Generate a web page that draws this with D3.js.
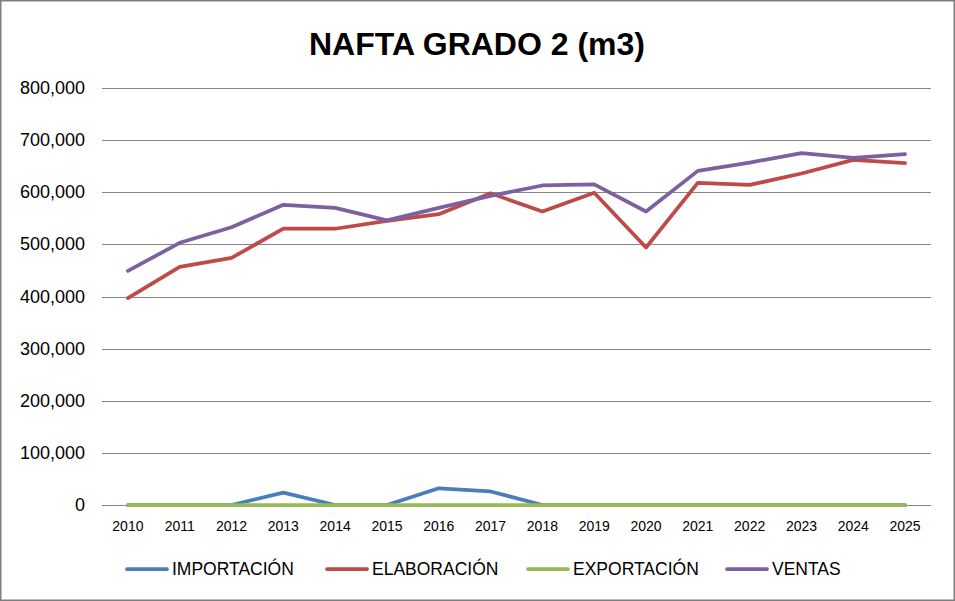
<!DOCTYPE html>
<html>
<head>
<meta charset="utf-8">
<script src="https://cdn.jsdelivr.net/npm/d3@7"></script>
<style>
  body { margin: 0; background: #fff; }
  svg text { font-family: "Liberation Sans", Arial, sans-serif; fill: #000; }
</style>
</head>
<body>
<div id="chart"></div>
<script>
// data
const years = [2010, 2011, 2012, 2013, 2014, 2015, 2016, 2017, 2018, 2019, 2020, 2021, 2022, 2023, 2024, 2025];
const importacion = [0, 0, 0, 23600, 0, 0, 32000, 26000, 0, 0, 0, 0, 0, 0, 0, 0];
const elaboracion = [397000, 457000, 474000, 530000, 530000, 545000, 558000, 598000, 563000, 599000, 494000, 618000, 614000, 636000, 662000, 656000];
const exportacion = [0, 0, 0, 0, 0, 0, 0, 0, 0, 0, 0, 0, 0, 0, 0, 0];
const ventas = [449000, 503000, 533000, 576000, 570000, 546000, 570000, 593000, 613000, 615000, 563000, 641000, 657000, 675000, 666000, 673000];
const yTicks = [0, 100000, 200000, 300000, 400000, 500000, 600000, 700000, 800000];

const series = [
  {name: "IMPORTACIÓN", values: importacion, color: "#4a7ebb"},
  {name: "ELABORACIÓN", values: elaboracion, color: "#be4b48"},
  {name: "EXPORTACIÓN", values: exportacion, color: "#98b954"},
  {name: "VENTAS", values: ventas, color: "#7d60a0"}
];

const width = 955, height = 601;
const margin = {top: 88, right: 24, bottom: 96, left: 102};

const svg = d3.select("#chart").append("svg")
    .attr("width", width)
    .attr("height", height);

// chart border
svg.append("rect")
    .attr("x", 0.75).attr("y", 0.75)
    .attr("width", width - 1.5).attr("height", height - 1.5)
    .attr("fill", "#fff")
    .attr("stroke", "#7f7f7f")
    .attr("stroke-width", 1.5);

svg.append("text")
    .attr("x", 477)
    .attr("y", 55)
    .attr("text-anchor", "middle")
    .style("font-size", "32px")
    .style("font-weight", "bold")
    .text("NAFTA GRADO 2 (m3)");

const x = d3.scaleBand()
    .domain(years)
    .range([margin.left, width - margin.right]);

const y = d3.scaleLinear()
    .domain([0, 800000])
    .range([height - margin.bottom, margin.top]);

// gridlines
svg.append("g")
    .selectAll("line")
    .data(yTicks)
    .join("line")
    .attr("x1", margin.left)
    .attr("x2", width - margin.right)
    .attr("y1", d => Math.round(y(d)) + 0.5)
    .attr("y2", d => Math.round(y(d)) + 0.5)
    .attr("stroke", "#868686")
    .attr("stroke-width", 1);

// y labels
svg.append("g")
    .selectAll("text")
    .data(yTicks)
    .join("text")
    .attr("x", 85)
    .attr("y", d => y(d) + 6)
    .attr("text-anchor", "end")
    .style("font-size", "18px")
    .text(d => d3.format(",")(d));

// x labels
svg.append("g")
    .selectAll("text")
    .data(years)
    .join("text")
    .attr("x", d => x(d) + x.bandwidth() / 2)
    .attr("y", 531)
    .attr("text-anchor", "middle")
    .style("font-size", "14px")
    .text(d => d);

const line = d3.line()
    .x((d, i) => x(years[i]) + x.bandwidth() / 2)
    .y(d => y(d));

svg.append("g")
    .selectAll("path")
    .data(series)
    .join("path")
    .attr("d", d => line(d.values))
    .attr("fill", "none")
    .attr("stroke", d => d.color)
    .attr("stroke-width", 3.75)
    .attr("stroke-linejoin", "round")
    .attr("stroke-linecap", "round");

// legend
const legendX = [127, 327, 528, 727];
const legend = svg.append("g")
    .selectAll("g")
    .data(series)
    .join("g")
    .attr("transform", (d, i) => `translate(${legendX[i]},569)`);

legend.append("line")
    .attr("x1", 0).attr("x2", 40)
    .attr("stroke", d => d.color)
    .attr("stroke-width", 3.75)
    .attr("stroke-linecap", "round");

legend.append("text")
    .attr("x", 45)
    .attr("y", 6)
    .style("font-size", "17.5px")
    .text(d => d.name);
</script>
</body>
</html>
